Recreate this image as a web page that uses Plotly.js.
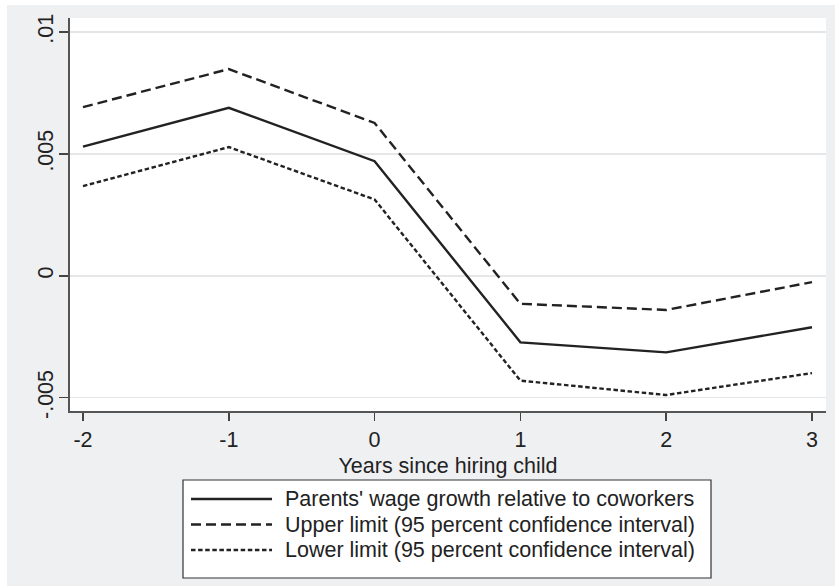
<!DOCTYPE html>
<html>
<head>
<meta charset="utf-8">
<script src="https://cdn.plot.ly/plotly-3.0.1.min.js"></script>
<style>
  html, body { margin: 0; padding: 0; background: #ffffff; }
  #chart { position: absolute; left: 7px; top: 5px; width: 828px; height: 581px; }
</style>
</head>
<body>
<div id="chart"></div>
<script>
// ---- data ----
const years = [-2, -1, 0, 1, 2, 3];
const estimate = [0.0053, 0.00689, 0.0047, -0.00273, -0.00314, -0.00211];
const upperCI = [0.00692, 0.00848, 0.00627, -0.00115, -0.0014, -0.00026];
const lowerCI = [0.00368, 0.00528, 0.00313, -0.0043, -0.00489, -0.00399];
const seriesNames = [
  "Parents' wage growth relative to coworkers",
  "Upper limit (95 percent confidence interval)",
  "Lower limit (95 percent confidence interval)"
];
const yTickVals = [-0.005, 0, 0.005, 0.01];
const yTickText = ["-.005", "0", ".005", ".01"];
const xTickVals = [-2, -1, 0, 1, 2, 3];
const xTickText = ["-2", "-1", "0", "1", "2", "3"];
const xTitle = "Years since hiring child";

// ---- styling ----
const FONT = "'Liberation Sans', Arial, Helvetica, sans-serif";
const FS = 21.5;
const INK = "#222222";
const BG = "#eff0f2";
const dashes = ["solid", "10px,5px", "4.5px,2.6px"];

// plot-area geometry (in div pixels)
const W = 828, H = 581;
const M = {l: 63, r: 9, t: 13, b: 175};
const PW = W - M.l - M.r, PH = H - M.t - M.b;
// page offset of div
const OX = 7, OY = 5;
const px = x => (x - OX - M.l) / PW;           // page x -> paper x
const py = y => (H - M.b - (y - OY)) / PH;      // page y -> paper y

const series = [estimate, upperCI, lowerCI];
const traces = series.map((s, i) => ({
  x: years, y: s, type: 'scatter', mode: 'lines', name: seriesNames[i],
  line: {color: INK, width: 2.4, dash: dashes[i]},
  showlegend: false, hoverinfo: 'skip'
}));

// custom legend (Stata-like box)
const legBox = {x0: 183, x1: 711, y0: 480, y1: 578};
const rowsY = [499, 524.5, 550];
const sampleX = [191, 272];
const textX = 283;
const shapes = [{
  type: 'rect', xref: 'paper', yref: 'paper',
  x0: px(legBox.x0), x1: px(legBox.x1), y0: py(legBox.y0), y1: py(legBox.y1),
  line: {color: '#333333', width: 1.2}, fillcolor: '#ffffff', layer: 'above'
}];
const annotations = [];
seriesNames.forEach((n, i) => {
  shapes.push({
    type: 'line', xref: 'paper', yref: 'paper',
    x0: px(sampleX[0]), x1: px(sampleX[1]), y0: py(rowsY[i]), y1: py(rowsY[i]),
    line: {color: INK, width: 2.4, dash: dashes[i]}, layer: 'above'
  });
  annotations.push({
    xref: 'paper', yref: 'paper', x: px(textX), y: py(rowsY[i]),
    xanchor: 'left', yanchor: 'middle', showarrow: false, text: n,
    font: {family: FONT, size: FS, color: INK}
  });
});

const layout = {
  width: W, height: H,
  margin: M,
  paper_bgcolor: BG, plot_bgcolor: '#ffffff',
  font: {family: FONT, size: FS, color: INK},
  showlegend: false,
  xaxis: {
    range: [-2.089, 3.096], tickvals: xTickVals, ticktext: xTickText,
    ticks: 'outside', ticklen: 8, tickwidth: 1.5, tickcolor: '#444444',
    showline: true, linecolor: '#555555', linewidth: 2,
    showgrid: false, zeroline: false,
    tickfont: {family: FONT, size: FS, color: INK},
    title: {text: xTitle, font: {family: FONT, size: FS, color: INK}, standoff: 7}
  },
  yaxis: {
    range: [-0.005546, 0.010575], tickvals: yTickVals, ticktext: yTickText,
    tickangle: -90,
    ticks: 'outside', ticklen: 9, tickwidth: 1.5, tickcolor: '#444444',
    showline: true, linecolor: '#555555', linewidth: 2,
    showgrid: true, gridcolor: '#e4e6e8', gridwidth: 1.5, zeroline: false,
    ticklabelstandoff: -3,
    tickfont: {family: FONT, size: FS, color: INK}
  },
  shapes: shapes,
  annotations: annotations
};

Plotly.newPlot('chart', traces, layout, {displayModeBar: false, staticPlot: true});
</script>
</body>
</html>
